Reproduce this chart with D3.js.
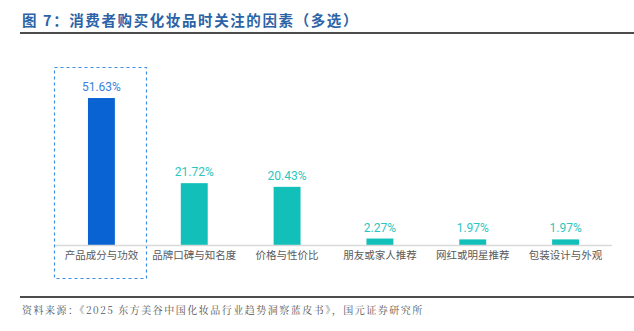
<!DOCTYPE html>
<html><head><meta charset="utf-8">
<script src="https://cdn.jsdelivr.net/npm/d3@7/dist/d3.min.js"></script>
<style>body{margin:0;background:#fff}svg{display:block}</style>
</head><body>
<svg id="c" width="634" height="331"></svg>
<script>
const categories = ["产品成分与功效","品牌口碑与知名度","价格与性价比","朋友或家人推荐","网红或明星推荐","包装设计与外观"];
const values = [51.63, 21.72, 20.43, 2.27, 1.97, 1.97];
const valueLabels = ["51.63%","21.72%","20.43%","2.27%","1.97%","1.97%"];
const title = "图 7：消费者购买化妆品时关注的因素（多选）";
const source = "资料来源：《2025 东方美谷中国化妆品行业趋势洞察蓝皮书》，国元证券研究所";

const svg = d3.select("#c");
const cjk = "'Noto Sans CJK SC', sans-serif";

svg.append("text").attr("x", 22).attr("y", 26).text(title)
  .attr("font-family", cjk).attr("font-size", 14.5).attr("font-weight", "bold")
  .attr("letter-spacing", 1.6).attr("fill", "#2c63a6");
svg.append("line").attr("x1", 20).attr("x2", 634).attr("y1", 33).attr("y2", 33)
  .attr("stroke", "#111").attr("stroke-width", 1.6);
svg.append("line").attr("x1", 20).attr("x2", 634).attr("y1", 297).attr("y2", 297)
  .attr("stroke", "#111").attr("stroke-width", 1.6);
svg.append("text").attr("x", 22).attr("y", 314).text(source)
  .attr("font-family", "'Noto Serif CJK SC','Noto Sans CJK SC', serif").attr("font-size", 10)
  .attr("letter-spacing", 1.5).attr("fill", "#555");

const x = d3.scaleBand().domain(categories).range([55, 612]).paddingInner(0.71).paddingOuter(0.355);
const y = d3.scaleLinear().domain([0, 60]).range([245, 74.2]);

// highlight box
svg.append("rect").attr("x", 54.5).attr("y", 67.5).attr("width", 92).attr("height", 211)
  .attr("fill", "none").attr("stroke", "#3d8fe6").attr("stroke-width", 1.2).attr("stroke-dasharray", "3,3");

svg.selectAll("rect.bar").data(values).join("rect").attr("class", "bar")
  .attr("x", (d, i) => x(categories[i])).attr("width", x.bandwidth())
  .attr("y", d => y(d)).attr("height", d => y(0) - y(d))
  .attr("fill", (d, i) => i === 0 ? "#0a63d3" : "#12bfb9");

svg.append("line").attr("x1", 55).attr("x2", 612).attr("y1", 245.5).attr("y2", 245.5)
  .attr("stroke", "#d9d9d9").attr("stroke-width", 1.5);

svg.selectAll("text.val").data(values).join("text").attr("class", "val")
  .attr("x", (d, i) => x(categories[i]) + x.bandwidth() / 2).attr("y", d => y(d) - 7)
  .attr("text-anchor", "middle").attr("font-family", "Roboto, sans-serif").attr("font-size", 12)
  .attr("fill", (d, i) => i === 0 ? "#3a7fdc" : "#2cc6c0")
  .text((d, i) => valueLabels[i]);

const xAxis = d3.axisBottom(x).tickSize(0).tickPadding(0);
const g = svg.append("g").attr("transform", "translate(0,259)").call(xAxis);
g.select(".domain").remove();
g.selectAll("text").attr("font-family", cjk).attr("font-size", 10.5).attr("fill", "#5a5a5a").attr("dy", 0);
</script>
</body></html>
